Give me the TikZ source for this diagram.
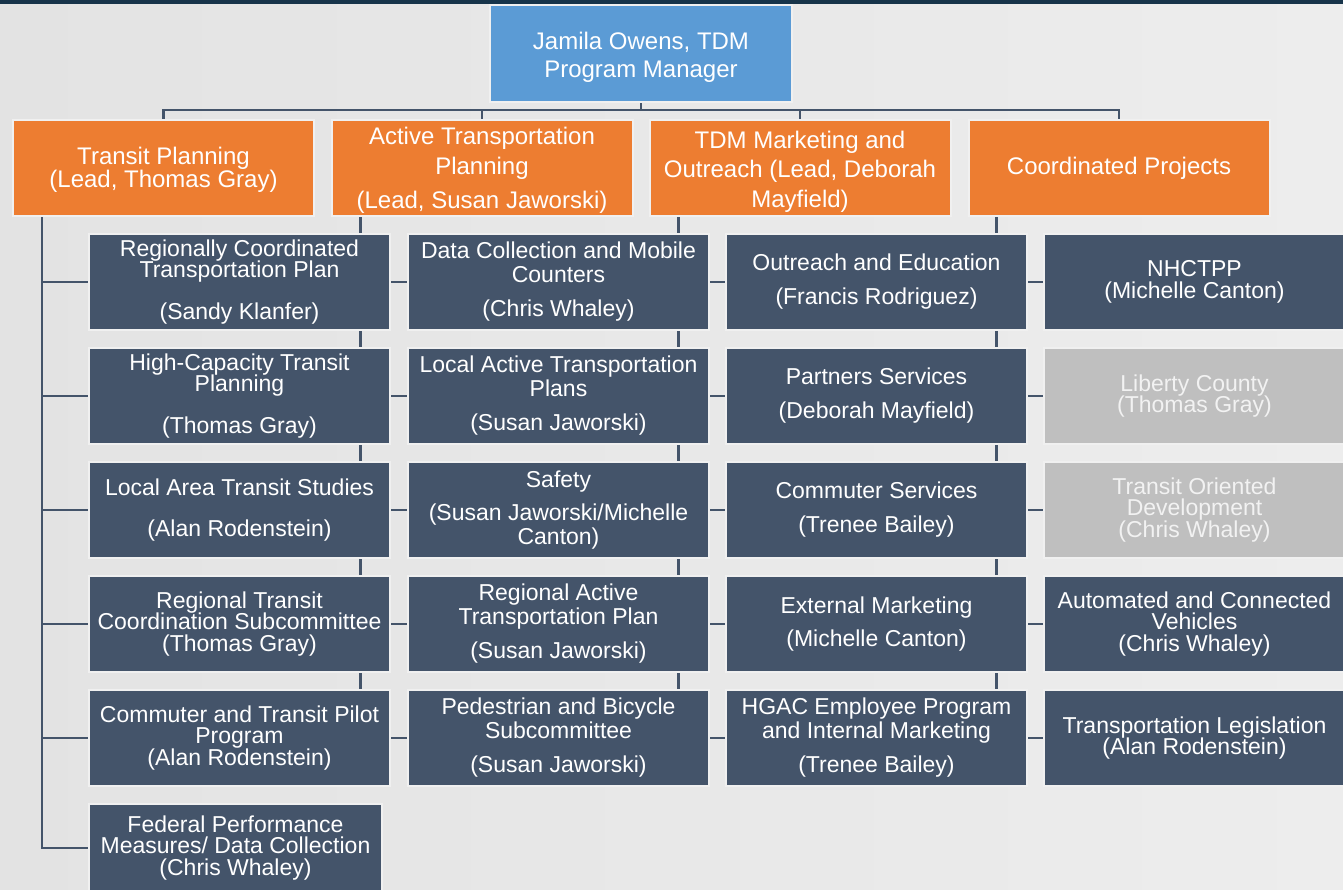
\documentclass[tikz,border=0pt]{standalone}
\usepackage{fontspec}
\setmainfont{Liberation Sans}
\usetikzlibrary{calc}
\definecolor{cnavy}{HTML}{44546A}
\definecolor{corange}{HTML}{ED7D31}
\definecolor{cblue}{HTML}{5B9BD5}
\definecolor{cgray}{HTML}{BFBFBF}
\definecolor{cgraytext}{HTML}{F2F2F2}
\definecolor{crim}{HTML}{F0F0F0}
\definecolor{cbgL}{HTML}{E3E3E3}
\definecolor{cbgR}{HTML}{EDEDED}
\definecolor{ctop}{HTML}{17344A}
\newcommand\myst[1]{\rule{0pt}{#1}}
\newcommand\mydp[1]{\rule[-#1]{0pt}{0pt}}
\pgfdeclarelayer{background}
\pgfsetlayers{background,main}
\tikzset{
  box/.style={rectangle, minimum width=301pt, minimum height=96pt, inner sep=0pt, outer sep=0pt,
    align=center, text=white, draw=crim, line width=2pt},
  navybox/.style={box, fill=cnavy, font=\fontsize{23}{21.5}\selectfont, execute at begin node=\myst{19.8pt}},
  graybox/.style={box, fill=cgray, text=cgraytext, font=\fontsize{23}{21.5}\selectfont, execute at begin node=\myst{19.8pt}},
  headbox/.style={box, fill=corange, font=\fontsize{24}{22}\selectfont},
  topbox/.style={box, fill=cblue, minimum width=302pt, minimum height=97pt, font=\fontsize{24}{22}\selectfont},
  conn/.style={draw=cnavy, line width=2.5pt}
}
\begin{document}
\begin{tikzpicture}[x=1pt,y=-1pt]
\useasboundingbox (0,0) rectangle (1343,889);
\clip (0,0) rectangle (1343,889);
\begin{pgfonlayer}{background}
\shade[left color=cbgL, right color=cbgR] (0,0) rectangle (1343,889);
\fill[ctop] (0,0) rectangle (1343,3.5);
\end{pgfonlayer}

% top
\node[topbox] (top) at (641,53.5) {\myst{25.5pt}Jamila Owens, TDM\\[6pt]Program Manager};

% headers
\node[headbox] (h1) at (163.5,168) {\myst{21.5pt}Transit Planning\\(Lead, Thomas Gray)};
\node[headbox] (h2) at (482,168) {\myst{22.5pt}Active Transportation\\[6pt]Planning\\[11pt](Lead, Susan Jaworski)};
\node[headbox] (h3) at (800,168) {\myst{25.5pt}TDM Marketing and\\[5pt]Outreach (Lead, Deborah\\[7pt]Mayfield)};
\node[headbox] (h4) at (1119,168) {Coordinated Projects};

% column 1
\node[navybox] (a1) at (239.5,282) {Regionally Coordinated\\Transportation Plan\\[20.5pt](Sandy Klanfer)};
\node[navybox] (a2) at (239.5,396) {High-Capacity Transit\\Planning\\[20.5pt](Thomas Gray)};
\node[navybox] (a3) at (239.5,510) {Local Area Transit Studies\\[19.5pt](Alan Rodenstein)};
\node[navybox] (a4) at (239.5,624) {Regional Transit\\Coordination Subcommittee\\(Thomas Gray)};
\node[navybox] (a5) at (239.5,738) {Commuter and Transit Pilot\\Program\\(Alan Rodenstein)};
\node[navybox, minimum width=293pt, minimum height=88pt] (a6) at (235.5,848) {Federal Performance\\Measures/ Data Collection\\(Chris Whaley)};

% column 2
\node[navybox] (b1) at (558.5,282) {Data Collection and Mobile\\[2.5pt]Counters\\[12.5pt](Chris Whaley)};
\node[navybox] (b2) at (558.5,396) {Local Active Transportation\\[2.5pt]Plans\\[12.5pt](Susan Jaworski)};
\node[navybox] (b3) at (558.5,510) {Safety\\[11.5pt](Susan Jaworski/Michelle\\[2.5pt]Canton)};
\node[navybox] (b4) at (558.5,624) {Regional Active\\[2.5pt]Transportation Plan\\[12.5pt](Susan Jaworski)};
\node[navybox] (b5) at (558.5,738) {Pedestrian and Bicycle\\[2.5pt]Subcommittee\\[12.5pt](Susan Jaworski)};

% column 3
\node[navybox] (c1) at (876.5,282) {Outreach and Education\\[12.5pt](Francis Rodriguez)};
\node[navybox] (c2) at (876.5,396) {Partners Services\\[12.5pt](Deborah Mayfield)};
\node[navybox] (c3) at (876.5,510) {Commuter Services\\[12.5pt](Trenee Bailey)};
\node[navybox] (c4) at (876.5,624) {External Marketing\\[11.5pt](Michelle Canton)};
\node[navybox] (c5) at (876.5,738) {HGAC Employee Program\\[2.5pt]and Internal Marketing\\[12.5pt](Trenee Bailey)};

% column 4
\node[navybox] (d1) at (1194.5,282) {NHCTPP\\(Michelle Canton)};
\node[graybox] (d2) at (1194.5,396) {Liberty County\\(Thomas Gray)};
\node[graybox] (d3) at (1194.5,510) {Transit Oriented\\Development\\(Chris Whaley)};
\node[navybox] (d4) at (1194.5,624) {Automated and Connected\\Vehicles\\(Chris Whaley)};
\node[navybox] (d5) at (1194.5,738) {Transportation Legislation\\(Alan Rodenstein)};

\begin{pgfonlayer}{background}
% top-level connectors
\draw[conn] (top.south) -- ++(0,8) coordinate (bar);
\foreach \h in {h1,h2,h3,h4} { \draw[conn] (\h.north) |- (bar); }
% column trunks
\coordinate (t1) at ($(h1.south west)+(29,0)$);
\coordinate (t2) at ($(h2.south west)+(29,0)$);
\coordinate (t3) at ($(h3.south west)+(29,0)$);
\coordinate (t4) at ($(h4.south west)+(28,0)$);
\foreach \n in {a1,a2,a3,a4,a5,a6} { \draw[conn] (t1) |- (\n.west); }
\foreach \n in {b1,b2,b3,b4,b5} { \draw[conn] (t2) |- (\n.west); }
\foreach \n in {c1,c2,c3,c4,c5} { \draw[conn] (t3) |- (\n.west); }
\foreach \n in {d1,d2,d3,d4,d5} { \draw[conn] (t4) |- (\n.west); }
\end{pgfonlayer}
\end{tikzpicture}
\end{document}
